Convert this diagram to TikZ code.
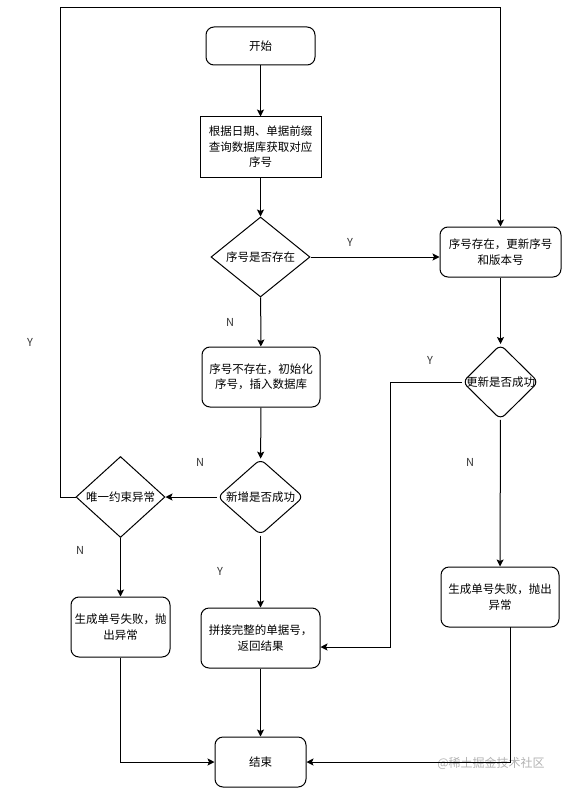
\documentclass[tikz,border=0pt]{standalone}
\usepackage{fontspec}
\setmainfont{Noto Sans CJK SC}
\usetikzlibrary{shapes.geometric,arrows.meta}
\begin{document}
\begin{tikzpicture}[x=1pt,y=-1pt,
  every node/.style={font=\fontsize{11.5}{15.5}\selectfont, align=center, inner sep=0pt},
  rbox/.style={draw, rounded corners=8pt, line width=1pt},
  pbox/.style={draw, line width=1pt},
  dia/.style={draw, diamond, line width=1pt, inner sep=0pt},
  conn/.style={line width=1pt, -{Stealth[length=7pt,width=7pt,inset=1.5pt]}},
  line/.style={line width=1pt},
  yn/.style={font=\fontsize{11}{13}\selectfont, text=black!80}
]
\useasboundingbox (0,0) rectangle (562,789);
% nodes
\node[rbox, minimum width=109pt, minimum height=38pt] (start) at (260.5,46) {开始};
\node[pbox, minimum width=121pt, minimum height=60pt] (query) at (260.5,147) {根据日期、单据前缀\\查询数据库获取对应\\序号};
\node[dia, minimum width=99pt, minimum height=80pt, label={center:序号是否存在}] (d1) at (260.5,257) {};
\node[rbox, minimum width=121pt, minimum height=50pt] (upd) at (500.5,252) {序号存在，更新序号\\和版本号};
\node[rbox, minimum width=118pt, minimum height=60pt] (init) at (261,377) {序号不存在，初始化\\序号，插入数据库};
\node[dia, rounded corners=6pt, minimum width=76pt, minimum height=75pt, label={center:更新是否成功}] (d2) at (500.5,382) {};
\node[dia, rounded corners=6pt, minimum width=86pt, minimum height=76pt, label={center:新增是否成功}] (d3) at (260.5,497) {};
\node[dia, minimum width=89pt, minimum height=81pt, label={center:唯一约束异常}] (d4) at (120.5,497) {};
\node[rbox, minimum width=99pt, minimum height=60pt] (fail1) at (120.5,627) {生成单号失败，抛\\出异常};
\node[rbox, minimum width=118pt, minimum height=60pt] (fail2) at (500,597) {生成单号失败，抛出\\异常};
\node[rbox, minimum width=119pt, minimum height=60pt] (join) at (260.5,638) {拼接完整的单据号，\\返回结果};
\node[rbox, minimum width=91pt, minimum height=50pt] (end) at (260.5,762) {结束};
% labels
\node[yn] (ly1) at (350,242) {Y};
\node[yn] (ln1) at (230,322) {N};
\node[yn] (ly2) at (430,360) {Y};
\node[yn] (ln2) at (470,462) {N};
\node[yn] (ln3) at (200,462) {N};
\node[yn] (ly3) at (30,342) {Y};
\node[yn] (ln4) at (80,550) {N};
\node[yn] (ly4) at (220,571) {Y};
\node[font=\fontsize{12}{14}\selectfont, text=black!30] (wm) at (491,763) {@稀土掘金技术社区};
% coordinates
\coordinate (c1) at (60,497);
\coordinate (c2) at (60,8);
\coordinate (c3) at (500.5,8);
\coordinate (c4) at (390,382);
\coordinate (c5) at (390,647);
\coordinate (c6) at (510,627);
\coordinate (c7) at (510,762);
% connectors
\draw[conn] (start) -- (query);
\draw[conn] (query) -- (d1);
\draw[conn] (d1.east) -- (d1.east -| upd.west);
\draw[conn] (d1) -- (init);
\draw[conn] (init) -- (d3);
\draw[conn] (d3.west) -- (d4.east);
\draw[conn] (d4.west) -- (c1) -- (c2) -- (c3) -- (upd.north);
\draw[conn] (d4) -- (fail1);
\draw[conn] (d3) -- (join);
\draw[conn] (upd) -- (d2);
\draw[conn] (d2.west) -- (c4) -- (c5) -- (c5 -| join.east);
\draw[conn] (d2) -- (fail2);
\draw[conn] (fail1.south) |- (end.west);
\draw[conn] (join) -- (end);
\draw[conn] (c6) -- (c7) -- (end.east);
\end{tikzpicture}
\end{document}
